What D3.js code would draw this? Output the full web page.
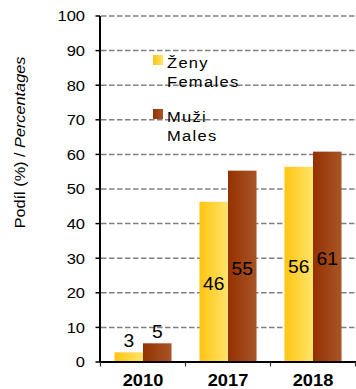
<!DOCTYPE html>
<html><head><meta charset="utf-8">
<script src="https://cdn.jsdelivr.net/npm/d3@7/dist/d3.min.js"></script>
<style>
html,body{margin:0;padding:0;background:#fff;}
svg{display:block;font-family:"Liberation Sans",Arial,sans-serif;}
</style></head><body>
<svg id="chart" width="356" height="389"></svg>
<script>
const categories = ["2010", "2017", "2018"];
const females = [2.8, 46.3, 56.4];
const males = [5.4, 55.3, 60.8];
const seriesNames = [["Ženy", "Females"], ["Muži", "Males"]];
const yTicks = [0, 10, 20, 30, 40, 50, 60, 70, 80, 90, 100];
const yTitle = ["Podíl (%) / ", "Percentages"];

const svg = d3.select("#chart");
const defs = svg.append("defs");
function grad(id, c0, c1) {
  const g = defs.append("linearGradient").attr("id", id).attr("x1", "0%").attr("x2", "100%").attr("y1", "0%").attr("y2", "0%");
  g.append("stop").attr("offset", "0%").attr("stop-color", c0);
  g.append("stop").attr("offset", "100%").attr("stop-color", c1);
}
grad("gF", "#FFC510", "#FFE46A");
grad("gM", "#953100", "#A85528");
const fills = ["url(#gF)", "url(#gM)"];

const y = d3.scaleLinear().domain([0, 100]).range([362, 16]);
const x0 = d3.scaleBand().domain(categories).range([100.5, 355.5]).paddingInner(0).paddingOuter(0);
const x1 = d3.scaleBand().domain([0, 1]).range([0, x0.bandwidth()]).paddingOuter(0.49).paddingInner(0);

// gridlines
svg.append("g").selectAll("line").data(yTicks.filter(d => d > 0)).join("line")
  .attr("x1", 101).attr("x2", 356).attr("y1", d => y(d)).attr("y2", d => y(d))
  .attr("stroke", "#808080").attr("stroke-width", 1.5).attr("stroke-dasharray", "5.5,2.5");

// bars
const rows = categories.map((c, i) => ({c, vals: [females[i], males[i]]}));
const fmt = d3.format(".0f");
rows.forEach(r => {
  r.vals.forEach((v, s) => {
    const bx = x0(r.c) + x1(s);
    svg.append("rect").attr("x", bx).attr("y", y(v)).attr("width", x1.bandwidth()).attr("height", y(0) - y(v)).attr("fill", fills[s]);
    const inside = (y(0) - y(v)) > 40;
    const ly = inside ? (y(v) + y(0)) / 2 + 8.5 : y(v) - 5;
    svg.append("text").attr("transform", `translate(${bx + x1.bandwidth() / 2},${ly}) scale(1.1,1)`)
      .attr("text-anchor", "middle").attr("font-size", 17.5).attr("fill", "#000").text(fmt(v));
  });
});

// y axis
svg.append("line").attr("x1", 100).attr("x2", 100).attr("y1", y(100)).attr("y2", y(0) + 1).attr("stroke", "#000").attr("stroke-width", 2);
svg.append("g").selectAll("line").data(yTicks).join("line")
  .attr("x1", 95.5).attr("x2", 100).attr("y1", d => y(d)).attr("y2", d => y(d)).attr("stroke", "#000").attr("stroke-width", 1.5);
svg.append("g").selectAll("text").data(yTicks).join("text")
  .attr("transform", d => `translate(85,${y(d) + 5.3}) scale(1.1,1)`)
  .attr("text-anchor", "end").attr("font-size", 15).attr("fill", "#000").text(d => d);

// x axis
svg.append("line").attr("x1", 99).attr("x2", 356).attr("y1", y(0)).attr("y2", y(0)).attr("stroke", "#000").attr("stroke-width", 2);
const edges = categories.map(c => x0(c)).concat([x0.range()[1]]);
svg.append("g").selectAll("line").data(edges).join("line")
  .attr("x1", d => d).attr("x2", d => d).attr("y1", y(0)).attr("y2", y(0) + 4.5).attr("stroke", "#333").attr("stroke-width", 1.2);
svg.append("g").selectAll("text").data(categories).join("text")
  .attr("transform", d => `translate(${x0(d) + x0.bandwidth() / 2},385.5) scale(1.14,1)`)
  .attr("text-anchor", "middle").attr("font-size", 16).attr("font-weight", "bold").attr("fill", "#000").text(d => d);

// y title
const yt = svg.append("text").attr("transform", "translate(25,142.5) rotate(-90) scale(1.05,1)")
  .attr("text-anchor", "middle").attr("font-size", 15.5).attr("fill", "#000");
yt.append("tspan").text(yTitle[0]);
yt.append("tspan").attr("font-style", "italic").text(yTitle[1]);

// legend
const legY = [55, 109];
seriesNames.forEach((n, s) => {
  svg.append("rect").attr("x", 153).attr("y", legY[s]).attr("width", 10).attr("height", 10).attr("fill", fills[s]);
  n.forEach((t, k) => {
    svg.append("text").attr("transform", `translate(167,${legY[s] + 13 + k * 19}) scale(1.1,1)`)
      .attr("font-size", 15).attr("letter-spacing", 1.2).attr("fill", "#000").text(t);
  });
});
</script>
</body></html>
